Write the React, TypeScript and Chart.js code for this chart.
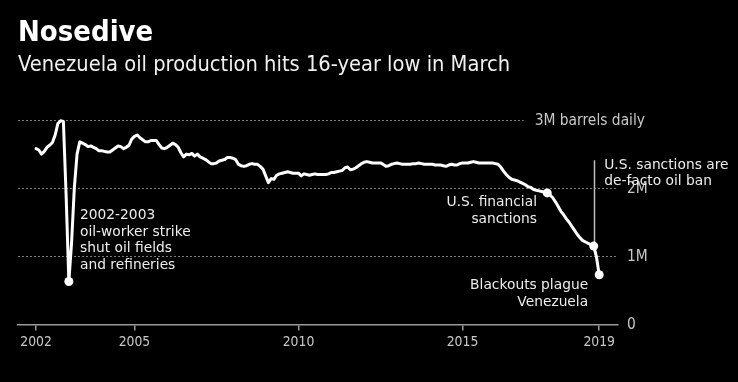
import React, { useEffect, useRef } from "react";
import { Chart, registerables } from "chart.js";

Chart.register(...registerables);

// Monthly Venezuelan oil production, million barrels per day (Jan 2002 - Mar 2019)
const startYear = 2002;
const prod2002 = [2.58, 2.56, 2.5, 2.54, 2.6, 2.63, 2.67, 2.78, 2.95, 2.99, 2.98, 1.9];
const prod2003 = [0.63, 1.2, 2.0, 2.5, 2.68, 2.66, 2.64, 2.61, 2.62, 2.6, 2.58, 2.55];
const prod2004 = [2.55, 2.54, 2.53, 2.53, 2.56, 2.59, 2.62, 2.61, 2.58, 2.6, 2.63, 2.72];
const prod2005 = [2.76, 2.78, 2.74, 2.71, 2.68, 2.68, 2.7, 2.7, 2.7, 2.64, 2.59, 2.58];
const prod2006 = [2.6, 2.63, 2.66, 2.64, 2.6, 2.52, 2.46, 2.5, 2.49, 2.51, 2.47, 2.5];
const prod2007 = [2.46, 2.44, 2.42, 2.39, 2.36, 2.36, 2.37, 2.4, 2.41, 2.42, 2.45, 2.45];
const prod2008 = [2.44, 2.42, 2.35, 2.33, 2.32, 2.33, 2.35, 2.36, 2.35, 2.35, 2.32, 2.28];
const prod2009 = [2.18, 2.08, 2.14, 2.13, 2.19, 2.21, 2.22, 2.23, 2.24, 2.23, 2.22, 2.22];
const prod2010 = [2.22, 2.18, 2.21, 2.2, 2.19, 2.2, 2.21, 2.2, 2.2, 2.2, 2.2, 2.21];
const prod2011 = [2.23, 2.23, 2.24, 2.25, 2.26, 2.3, 2.31, 2.27, 2.28, 2.3, 2.33, 2.36];
const prod2012 = [2.38, 2.39, 2.38, 2.37, 2.37, 2.37, 2.37, 2.35, 2.32, 2.33, 2.35, 2.36];
const prod2013 = [2.37, 2.36, 2.35, 2.35, 2.35, 2.35, 2.36, 2.36, 2.37, 2.36, 2.35, 2.35];
const prod2014 = [2.35, 2.35, 2.34, 2.34, 2.34, 2.33, 2.32, 2.34, 2.35, 2.34, 2.34, 2.36];
const prod2015 = [2.37, 2.37, 2.37, 2.38, 2.39, 2.38, 2.37, 2.37, 2.37, 2.37, 2.37, 2.37];
const prod2016 = [2.36, 2.35, 2.31, 2.25, 2.2, 2.16, 2.13, 2.12, 2.11, 2.09, 2.07, 2.05];
const prod2017 = [2.02, 2.01, 1.98, 1.97, 1.96, 1.95, 1.94, 1.93, 1.9, 1.86, 1.8, 1.73];
const prod2018 = [1.66, 1.61, 1.55, 1.5, 1.44, 1.38, 1.32, 1.27, 1.23, 1.21, 1.19, 1.17];
const prod2019 = [1.15, 0.99, 0.73];

const production = [
  ...prod2002, ...prod2003, ...prod2004, ...prod2005, ...prod2006, ...prod2007,
  ...prod2008, ...prod2009, ...prod2010, ...prod2011, ...prod2012, ...prod2013,
  ...prod2014, ...prod2015, ...prod2016, ...prod2017, ...prod2018, ...prod2019,
];

// Highlighted months (index from Jan 2002): strike low, financial sanctions, oil ban, blackouts
const highlightIdx = [12, 187, 204, 206];

const xTickValues = [2002, 2005, 2010, 2015, 2019 + 2 / 12];
const xTickLabels = ["2002", "2005", "2010", "2015", "2019"];
const yTickValues = [0, 1, 2, 3];
const yTickLabels = ["0", "1M", "2M", "3M barrels daily"];

const annotations = [
  { lines: ["2002-2003", "oil-worker strike", "shut oil fields", "and refineries"], x: 2003.34, y: 1.6, align: "left" },
  { lines: ["U.S. financial", "sanctions"], x: 2017.27, y: 1.79, align: "right" },
  { lines: ["U.S. sanctions are", "de-facto oil ban"], x: 2019.32, y: 2.34, align: "left" },
  { lines: ["Blackouts plague", "Venezuela"], x: 2018.83, y: 0.57, align: "right" },
];
const leader = { x: 2019, from: 1.15, to: 2.41 };

const FONT = "'DejaVu Sans Condensed', 'DejaVu Sans', sans-serif";
const NOTE_FONT = "'DejaVu Sans', sans-serif";

const overlayPlugin = {
  id: "overlay",
  beforeDatasetsDraw(chart: any) {
    const { ctx, chartArea, scales } = chart;
    const x = scales.x;
    const y = scales.y;
    ctx.save();
    ctx.font = `15.4px ${FONT}`;
    ctx.textBaseline = "middle";
    ctx.fillStyle = "#c8c8c8";
    const labelLeft = chartArea.right + 9;
    const labelRightEdge = chartArea.right + 27;
    yTickValues.forEach((v, i) => {
      const py = y.getPixelForValue(v);
      const label = yTickLabels[i];
      const w = ctx.measureText(label).width;
      const left = i === yTickValues.length - 1 ? labelRightEdge - w : labelLeft;
      ctx.textAlign = "left";
      ctx.fillText(label, left, py + 1);
      if (v > 0) {
        ctx.beginPath();
        ctx.setLineDash([2, 2]);
        ctx.strokeStyle = "#7a7a7a";
        ctx.lineWidth = 1;
        ctx.moveTo(chartArea.left, Math.round(py) + 0.5);
        ctx.lineTo(left - 11, Math.round(py) + 0.5);
        ctx.stroke();
      }
    });
    ctx.setLineDash([]);
    // leader line for oil ban annotation
    const lx = Math.round(x.getPixelForValue(leader.x)) + 0.5;
    ctx.beginPath();
    ctx.strokeStyle = "#bdbdbd";
    ctx.lineWidth = 1.5;
    ctx.moveTo(lx, y.getPixelForValue(leader.from));
    ctx.lineTo(lx, y.getPixelForValue(leader.to));
    ctx.stroke();
    ctx.restore();
  },
  afterDatasetsDraw(chart: any) {
    const { ctx, scales } = chart;
    const x = scales.x;
    const y = scales.y;
    ctx.save();
    ctx.font = `13.8px ${NOTE_FONT}`;
    ctx.textBaseline = "middle";
    ctx.fillStyle = "#ececec";
    annotations.forEach((a) => {
      const px = x.getPixelForValue(a.x);
      const py = y.getPixelForValue(a.y);
      ctx.textAlign = a.align;
      a.lines.forEach((line, i) => {
        ctx.fillText(line, px, py + i * 16.5);
      });
    });
    ctx.restore();
  },
};

export default function App() {
  const canvasRef = useRef<HTMLCanvasElement | null>(null);

  useEffect(() => {
    if (!canvasRef.current) return;
    const points = production.map((v, i) => ({ x: startYear + i / 12, y: v }));
    const chart = new Chart(canvasRef.current, {
      type: "line",
      data: {
        datasets: [
          {
            data: points,
            borderColor: "#ffffff",
            borderWidth: 3,
            borderJoinStyle: "round",
            borderCapStyle: "round",
            tension: 0,
            pointRadius: (c: any) => (highlightIdx.includes(c.dataIndex) ? 4.5 : 0),
            pointHoverRadius: 0,
            pointBackgroundColor: "#ffffff",
            pointBorderWidth: 0,
            clip: false,
          },
        ],
      },
      options: {
        animation: false,
        responsive: false,
        devicePixelRatio: 1,
        events: [],
        layout: { padding: { left: 18, right: 120, top: 0, bottom: 27 } },
        plugins: {
          legend: { display: false },
          tooltip: { enabled: false },
          title: {
            display: true,
            text: "Nosedive",
            align: "start",
            color: "#ffffff",
            font: { family: FONT, size: 29, weight: "bold", lineHeight: 1 },
            padding: { top: 18.7, bottom: 0 },
          },
          subtitle: {
            display: true,
            text: "Venezuela oil production hits 16-year low in March",
            align: "start",
            color: "#f0f0f0",
            font: { family: FONT, size: 21.7, lineHeight: 1 },
            padding: { top: 7, bottom: 23.2 },
          },
        },
        scales: {
          x: {
            type: "linear",
            min: 2001.45,
            max: 2019.74,
            afterBuildTicks: (scale: any) => {
              scale.ticks = xTickValues.map((v) => ({ value: v }));
            },
            ticks: {
              color: "#c8c8c8",
              font: { family: FONT, size: 13.8 },
              padding: 4,
              maxRotation: 0,
              autoSkip: false,
              callback: (value: any) => {
                const idx = xTickValues.findIndex((t) => Math.abs(t - value) < 1e-6);
                return idx >= 0 ? xTickLabels[idx] : "";
              },
            },
            grid: { drawOnChartArea: false, drawTicks: true, tickLength: 6, color: "#9a9a9a", lineWidth: 1.5 },
            border: { display: true, color: "#9a9a9a", width: 1.5 },
          },
          y: { display: false, min: 0, max: 3.3 },
        },
      },
      plugins: [overlayPlugin],
    } as any);
    return () => chart.destroy();
  }, []);

  return (
    <div style={{ position: "fixed", left: 0, top: 0, width: 738, height: 382, background: "#000" }}>
      <canvas ref={canvasRef} width={738} height={382} style={{ display: "block" }} />
    </div>
  );
}
